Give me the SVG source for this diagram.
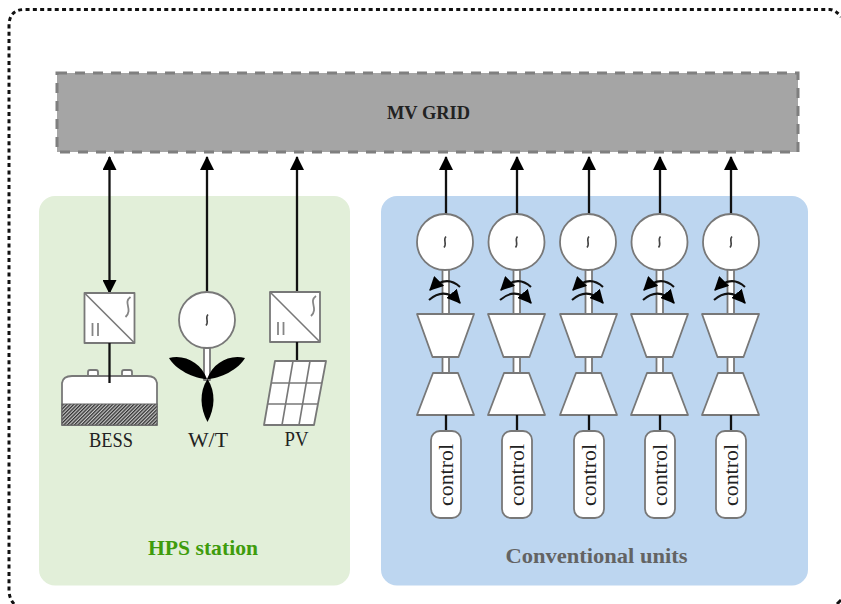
<svg xmlns="http://www.w3.org/2000/svg" xmlns:xlink="http://www.w3.org/1999/xlink" width="841" height="604" viewBox="0 0 841 604">
<style>
.lbl{font-family:"Liberation Serif","DejaVu Serif",serif;fill:#222;text-anchor:middle}
.b{font-weight:bold}
.wire{fill:none;stroke:#111;stroke-width:2.300}
.sh{fill:#fff;stroke:#787878;stroke-width:1.800;stroke-linejoin:round}
.thin{fill:none;stroke:#787878;stroke-width:1.600}
.glyph{fill:none;stroke:#858585;stroke-width:1.800}
.tilde{fill:none;stroke:#444;stroke-width:1.600}
.curve{fill:none;stroke:#111;stroke-width:2}
</style>
<defs>
<marker id="ah" viewBox="0 0 14 14" refX="13" refY="7" markerWidth="14" markerHeight="14" markerUnits="userSpaceOnUse" orient="auto-start-reverse"><path d="M0 0L14 7L0 14Z" fill="#000"/></marker>
<marker id="ca" viewBox="0 0 12 12" refX="11" refY="6" markerWidth="14" markerHeight="14" markerUnits="userSpaceOnUse" orient="auto"><path d="M0 0L12 6L0 12Z" fill="#000"/></marker>
<pattern id="hatch" width="2.500" height="2.500" patternUnits="userSpaceOnUse" patternTransform="rotate(-45)"><rect width="2.500" height="2.500" fill="#c8c8c8"/><rect width="2.500" height="1.300" fill="#333"/></pattern>
<g id="conv">
<rect class="sh" x="0" y="0" width="50" height="50"/>
<path class="thin" d="M0 0L50 50"/>
<path class="glyph" d="M8 30V43M13.500 30V43"/>
<path class="glyph" d="M46 4C38 10 49 16 41 24"/>
</g>
<g id="gen">
<circle class="sh" cx="0" cy="0" r="28"/>
<path class="tilde" d="M1 -5.500C-2.500 -2 2.500 1.500 -1 5.500"/>
</g>
<g id="unit">
<rect class="sh" x="-3.500" y="269" width="6.500" height="45"/>
<rect class="sh" x="-3.500" y="357" width="6.500" height="16"/>
<path class="curve" d="M14 287Q0 274 -16 290" marker-end="url(#ca)"/>
<path class="curve" d="M-17 300Q-1 286 14 303" marker-end="url(#ca)"/>
<path class="sh" d="M-29 314H28L12.500 357H-13.500Z"/>
<path class="sh" d="M-13 373H12L28 415H-29Z"/>
<path class="wire" d="M0 415V431"/>
<rect class="sh" x="-15" y="431" width="30" height="87" rx="9"/>
</g>
</defs>

<path d="M14 604Q9 598 9 590V26Q9 10 24 9.500H830Q836 10 841 17" fill="none" stroke="#111" stroke-width="3" stroke-dasharray="4 3.300"/>
<path d="M837 604L841 600" fill="none" stroke="#111" stroke-width="3"/>
<rect id="hps-panel" x="39" y="196" width="311" height="389.500" rx="16" fill="#e2efd9"/>
<rect id="conv-panel" x="381" y="196" width="427" height="389.500" rx="16" fill="#bdd6f0"/>

<g id="connectors">
<path class="wire" d="M109.500 293V157" marker-start="url(#ah)" marker-end="url(#ah)"/>
<path class="wire" d="M207 293V157" marker-end="url(#ah)"/>
<path class="wire" d="M297 293V157" marker-end="url(#ah)"/>
<path class="wire" d="M446 215V157" marker-end="url(#ah)"/>
<path class="wire" d="M517 215V157" marker-end="url(#ah)"/>
<path class="wire" d="M589 215V157" marker-end="url(#ah)"/>
<path class="wire" d="M660 215V157" marker-end="url(#ah)"/>
<path class="wire" d="M731 215V157" marker-end="url(#ah)"/>
</g>

<g id="mv-grid">
<rect x="57" y="73" width="741" height="79" fill="#a5a5a5" stroke="#7f7f7f" stroke-width="3" stroke-dasharray="10 8"/>
<text class="lbl b" x="428.500" y="119" font-size="19" textLength="83" lengthAdjust="spacingAndGlyphs">MV GRID</text>
</g>

<g id="bess">
<use xlink:href="#conv" href="#conv" x="84.500" y="293"/>
<rect class="sh" x="88" y="370" width="10" height="7" rx="2"/>
<rect class="sh" x="122" y="370" width="10" height="7" rx="2"/>
<path class="sh" d="M62 383Q63 376 72 376H147Q156 376 157 383V425H62Z"/>
<path class="wire" d="M109.500 343V383"/>
<rect x="62" y="404" width="95" height="21" fill="url(#hatch)" stroke="#666" stroke-width="1"/>
<text class="lbl" x="111" y="447" font-size="20" textLength="44" lengthAdjust="spacingAndGlyphs">BESS</text>
</g>

<g id="wt">
<rect class="sh" x="204" y="348" width="6" height="32"/>
<use xlink:href="#gen" href="#gen" x="207" y="320"/>
<path d="M207 379C194 379 175 369 169 358C185 354 201 363 207 379Z" fill="#000"/>
<path d="M207 379C220 379 239 369 245 358C229 354 213 363 207 379Z" fill="#000"/>
<path d="M207.500 379C216 392 215 408 207.500 422C200 408 199 392 207.500 379Z" fill="#000"/>
<text class="lbl" x="208" y="447" font-size="20" textLength="40" lengthAdjust="spacingAndGlyphs">W/T</text>
</g>

<g id="pv">
<use xlink:href="#conv" href="#conv" x="270" y="292"/>
<path class="wire" d="M297 342V361"/>
<path class="sh" d="M275 361H326L314 425H264Z"/>
<path class="thin" d="M271.500 383H322M268 404H318M293 361L282 425M310 361L299 425"/>
<text class="lbl" x="296.500" y="446" font-size="20" textLength="24" lengthAdjust="spacingAndGlyphs">PV</text>
</g>

<g id="unit-1"><use xlink:href="#unit" href="#unit" x="446"/><use xlink:href="#gen" href="#gen" x="445" y="242"/><text class="lbl" font-size="20" textLength="62" lengthAdjust="spacingAndGlyphs" transform="translate(453 475) rotate(-90)">control</text></g>
<g id="unit-2"><use xlink:href="#unit" href="#unit" x="517"/><use xlink:href="#gen" href="#gen" x="516.500" y="242"/><text class="lbl" font-size="20" textLength="62" lengthAdjust="spacingAndGlyphs" transform="translate(524 475) rotate(-90)">control</text></g>
<g id="unit-3"><use xlink:href="#unit" href="#unit" x="589"/><use xlink:href="#gen" href="#gen" x="588" y="242"/><text class="lbl" font-size="20" textLength="62" lengthAdjust="spacingAndGlyphs" transform="translate(596 475) rotate(-90)">control</text></g>
<g id="unit-4"><use xlink:href="#unit" href="#unit" x="660"/><use xlink:href="#gen" href="#gen" x="659.500" y="242"/><text class="lbl" font-size="20" textLength="62" lengthAdjust="spacingAndGlyphs" transform="translate(667 475) rotate(-90)">control</text></g>
<g id="unit-5"><use xlink:href="#unit" href="#unit" x="731"/><use xlink:href="#gen" href="#gen" x="731" y="242"/><text class="lbl" font-size="20" textLength="62" lengthAdjust="spacingAndGlyphs" transform="translate(738 475) rotate(-90)">control</text></g>

<text class="lbl b" x="203" y="554.500" font-size="21" textLength="110" lengthAdjust="spacingAndGlyphs" style="fill:#3f9c0c">HPS station</text>
<text class="lbl b" x="596.500" y="563" font-size="21" textLength="182" lengthAdjust="spacingAndGlyphs" style="fill:#636363">Conventional units</text>
</svg>
